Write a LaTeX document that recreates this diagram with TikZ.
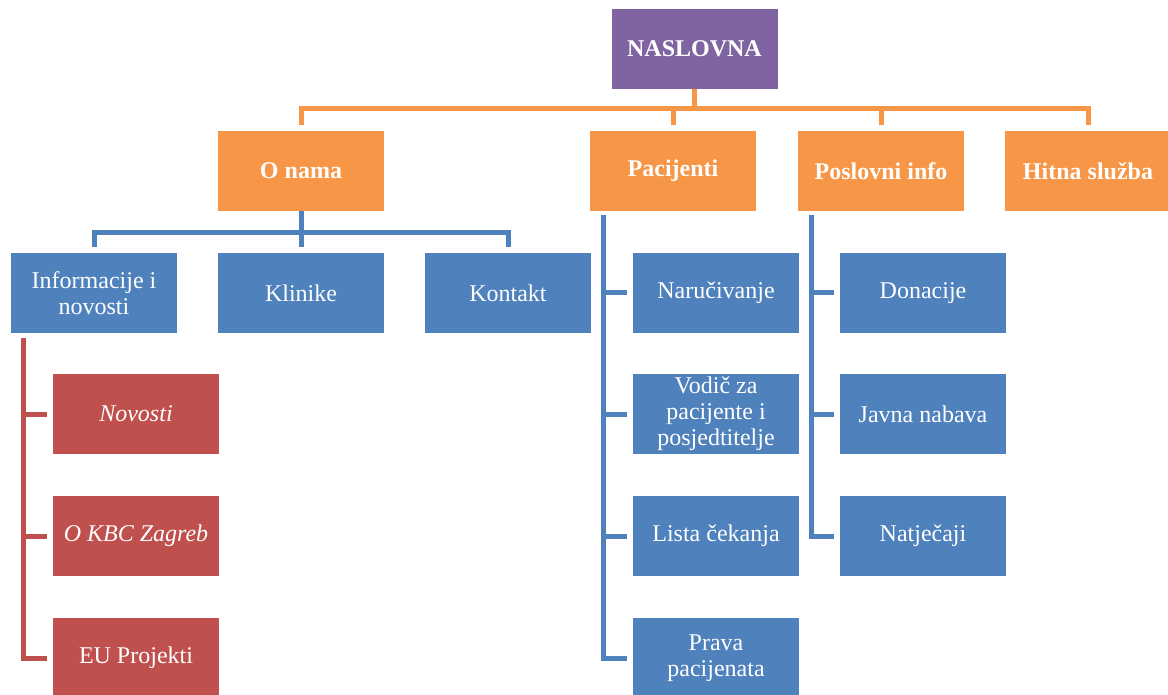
\documentclass[tikz,border=0pt]{standalone}
\usepackage{fontspec}
\setmainfont{Liberation Serif}

\definecolor{purplebox}{HTML}{8064A2}
\definecolor{orangebox}{HTML}{F79646}
\definecolor{bluebox}{HTML}{4F81BD}
\definecolor{redbox}{HTML}{C0504D}

\tikzset{
  box/.style={rectangle, inner sep=0pt, minimum width=166pt, minimum height=80pt,
    align=center, text=white, font=\fontsize{24}{26}\selectfont},
  topbox/.style={box, fill=purplebox, font=\fontsize{24}{26}\selectfont\bfseries},
  orabox/.style={box, fill=orangebox, font=\fontsize{24}{26}\selectfont\bfseries},
  blubox/.style={box, fill=bluebox},
  redbx/.style={box, fill=redbox},
  link/.style={line width=5pt, shorten >=6pt},
}

\begin{document}
\begin{tikzpicture}[x=1pt, y=-1pt]
  \useasboundingbox (0,0) rectangle (1168,695);

  % top level
  \node [topbox] (naslovna) at (694.5,49) {NASLOVNA};

  \node [orabox] (onama) at (301,171) {O nama};
  \node [orabox] (pacijenti) at (673,171) {Pacijenti};
  \node [orabox] (poslovni) at (881,171) {Poslovni info};
  \node [orabox, minimum width=167pt] (hitna) at (1088,171) {Hitna služba};

  % under O nama
  \node [blubox] (info) at (94,293) {Informacije i\\novosti};
  \node [blubox] (klinike) at (301,293) {Klinike};
  \node [blubox] (kontakt) at (508,293) {Kontakt};

  \node [redbx] (novosti) at (136,414) {\itshape Novosti};
  \node [redbx] (okbc) at (136,536) {\itshape O KBC Zagreb};
  \node [redbx] (euproj) at (136,658) {EU Projekti};

  % under Pacijenti
  \node [blubox] (narucivanje) at (716,293) {Naručivanje};
  \node [blubox] (vodic) at (716,414) {Vodič za\\pacijente i\\posjedtitelje};
  \node [blubox] (lista) at (716,536) {Lista čekanja};
  \node [blubox] (prava) at (716,658) {Prava\\pacijenata};

  % under Poslovni info
  \node [blubox] (donacije) at (923,293) {Donacije};
  \node [blubox] (javna) at (923,414) {Javna nabava};
  \node [blubox] (natjecaji) at (923,536) {Natječaji};

  % connectors
  \draw [link, orangebox, shorten >=0pt] (naslovna.south) -- ++(0,19) coordinate (obus);
  \foreach \n in {onama, pacijenti, poslovni, hitna}
    \draw [link, orangebox] (obus) -| (\n.north);

  \draw [link, bluebox, shorten >=0pt] (onama.south) -- ++(0,21) coordinate (bbus);
  \foreach \n in {info, klinike, kontakt}
    \draw [link, bluebox] (bbus) -| (\n.north);

  \foreach \n in {novosti, okbc, euproj}
    \draw [link, redbox] ([shift={(13,5)}]info.south west) |- (\n.west);

  \foreach \n in {narucivanje, vodic, lista, prava}
    \draw [link, bluebox] ([shift={(14,4)}]pacijenti.south west) |- (\n.west);

  \foreach \n in {donacije, javna, natjecaji}
    \draw [link, bluebox] ([shift={(14,4)}]poslovni.south west) |- (\n.west);
\end{tikzpicture}
\end{document}
